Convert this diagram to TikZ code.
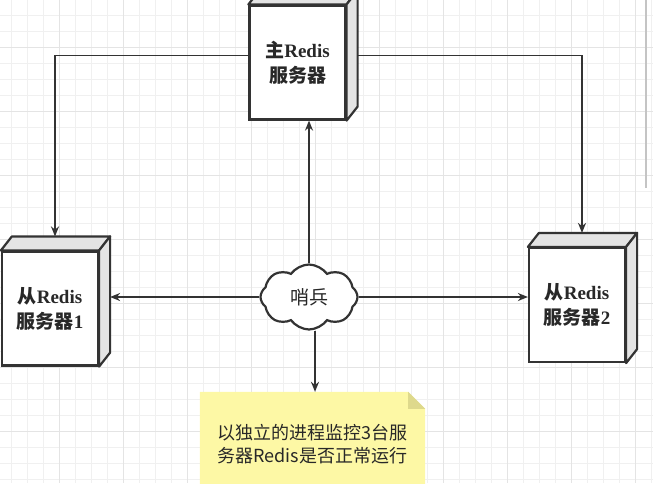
\documentclass[tikz,border=0pt]{standalone}
\usepackage{fontspec}
\setmainfont{Liberation Serif}
\newfontfamily\cjk{Noto Sans CJK SC}
\usepackage{tikz}
\usetikzlibrary{arrows.meta, positioning, calc, shapes.symbols, backgrounds}
\definecolor{linegray}{RGB}{51,51,51}
\definecolor{textgray}{RGB}{40,40,40}
\definecolor{gridminor}{RGB}{240,240,240}
\definecolor{gridmajor}{RGB}{228,228,228}
\definecolor{facegray}{RGB}{228,228,228}
\definecolor{noteyellow}{RGB}{253,248,165}
\definecolor{notefold}{RGB}{222,217,140}
\definecolor{bargray}{RGB}{196,196,196}

\begin{document}
\begin{tikzpicture}[
    x=1pt, y=-1pt,
    >={Stealth[length=10pt, width=8pt]},
    server/.style={draw=linegray, line width=2.2pt, fill=white, minimum width=96pt, minimum height=114pt, inner sep=0pt, align=center, text=textgray, font=\fontsize{19}{25}\selectfont\bfseries},
    face/.style={draw=linegray, line width=2.2pt, fill=facegray, line join=round},
    sentinelcloud/.style={cloud, cloud puffs=8, cloud puff arc=110, aspect=1.5, draw=linegray, line width=2.2pt, fill=white, minimum width=97pt, minimum height=65pt, inner sep=0pt, text=textgray, font=\fontsize{19}{23}\selectfont\cjk},
    memo/.style={minimum width=225pt, minimum height=105pt, inner sep=0pt, align=center, text=textgray, font=\fontsize{18}{23}\selectfont\cjk},
    conn/.style={draw=linegray, line width=1.7pt, ->},
]
    \useasboundingbox (0,0) rectangle (653,483);
    \clip (0,0) rectangle (653,483);

    \begin{scope}[on background layer]
        \foreach \x in {0,...,40} \draw[gridminor, line width=1pt] ({11.5+16*\x},0) -- ++(0,483);
        \foreach \y in {0,...,29} \draw[gridminor, line width=1pt] (0,{15+16*\y}) -- ++(653,0);
        \foreach \x in {0,...,9} \draw[gridmajor, line width=1pt] ({59.5+64*\x},0) -- ++(0,483);
        \foreach \y in {0,...,7} \draw[gridmajor, line width=1pt] (0,{47+64*\y}) -- ++(653,0);
    \end{scope}
    \fill[bargray] (645,0) rectangle (647,188);

    \node[server] (master) at (297.5,62.5) {{\cjk 主}Redis\\{\cjk 服务器}};
    \node[server] (slave1) at (50,308.5) {{\cjk 从}Redis\\{\cjk 服务器}1};
    \node[server] (slave2) at (577,305) {{\cjk 从}Redis\\{\cjk 服务器}2};

    \foreach \s in {master, slave1, slave2} {
        \draw[face] (\s.north west) -- ++(11,-14) -- ($(\s.north east)+(11,-14)$) -- (\s.north east) -- cycle;
        \draw[face] (\s.north east) -- ++(11,-14) -- ($(\s.south east)+(11,-14)$) -- (\s.south east) -- cycle;
    }

    \node[sentinelcloud] (sentinel) at (309,297) {哨兵};
    \node[memo] (note) at (312.5,444.5) {以独立的进程监控3台服\\务器Redis是否正常运行};
    \begin{scope}[on background layer]
        \fill[noteyellow] (note.south west) -- (note.north west) -- ([xshift=-17pt]note.north east) -- ([yshift=-17pt]note.north east) -- (note.south east) -- cycle;
        \fill[notefold] ([xshift=-17pt]note.north east) -- ([xshift=-17pt,yshift=-17pt]note.north east) -- ([yshift=-17pt]note.north east) -- cycle;
    \end{scope}

    \draw[conn] ([yshift=7pt]master.west) -| ([xshift=5pt,yshift=14pt]slave1.north);
    \draw[conn] ([xshift=11pt,yshift=7pt]master.east) -| ([xshift=5pt,yshift=14pt]slave2.north);
    \draw[conn] (sentinel.north) -- (sentinel.north |- master.south);
    \draw[conn] (sentinel.west) -- ($(sentinel.west -| slave1.east)+(11,0)$);
    \draw[conn] (sentinel.east) -- (sentinel.east -| slave2.west);
    \draw[conn] ([xshift=6pt]sentinel.south) -- ([xshift=6pt]sentinel.south |- note.north);
\end{tikzpicture}
\end{document}
